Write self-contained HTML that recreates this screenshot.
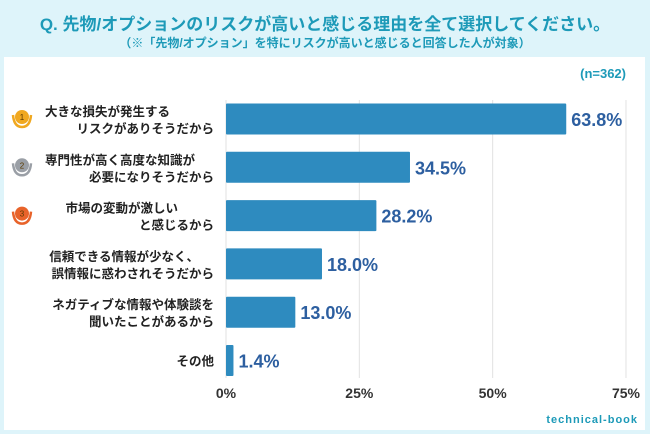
<!DOCTYPE html>
<html><head><meta charset="utf-8"><style>
body{margin:0;width:650px;height:434px;background:#def4fa;font-family:"Liberation Sans","Noto Sans CJK JP",sans-serif;overflow:hidden;position:relative}
.t{position:absolute;left:0;width:650px;text-align:center;color:#1d9ab8;font-weight:bold}
#panel{position:absolute;left:4px;top:57px;width:641px;height:373px;background:#fff}
</style></head><body>
<div class="t" style="top:10px;font-size:17px">Q. 先物/オプションのリスクが高いと感じる理由を全て選択してください。</div>
<div class="t" style="top:34px;font-size:12px">（※「先物/オプション」を特にリスクが高いと感じると回答した人が対象）</div>
<div id="panel"></div>
<svg id="c" width="650" height="434" style="position:absolute;left:0;top:0"></svg>
<script>
const categories=[["大きな損失が発生する","リスクがありそうだから"],["専門性が高く高度な知識が","必要になりそうだから"],["市場の変動が激しい","と感じるから"],["信頼できる情報が少なく、","誤情報に惑わされそうだから"],["ネガティブな情報や体験談を","聞いたことがあるから"],["その他"]];
const values=[63.8,34.5,28.2,18.0,13.0,1.4];
const ticks=[0,25,50,75];
const ranks=[1,2,3];
const NS="http://www.w3.org/2000/svg";
const svg=document.getElementById('c');
const x=v=>226+v*5.333;
const rowY=i=>119+i*48.3;
const firstLineShift=[44,19,36,15,0,0];
function mk(t,a,txt){const e=document.createElementNS(NS,t);for(const k in a)e.setAttribute(k,a[k]);if(txt!==undefined)e.textContent=txt;svg.appendChild(e);return e;}
ticks.forEach(t=>{
const g=mk('line',{x1:x(t),x2:x(t),y1:100,y2:378,stroke:'#e2e2e2','stroke-width':1});


const l=mk('text',{x:x(t),y:398,'text-anchor':'middle','font-size':14,'font-weight':'bold',fill:'#333'},t+'%');


});
const n=mk('text',{x:626,y:78,'text-anchor':'end','font-size':13,'font-weight':'bold',fill:'#1d9ab8'},'(n=362)');


const medal=['#f0a820','#9a9fa6','#e8632a'];
values.forEach((v,i)=>{
const cy=rowY(i);
const b=mk('rect',{x:x(0),y:cy-15.5,width:x(v)-x(0),height:31,fill:'#2e8bbf',rx:1});


const vt=mk('text',{x:x(v)+5,y:cy+7,'font-size':18,fill:'#2d5fa0','font-weight':'bold'},v.toFixed(1)+'%');


const lines=categories[i];
lines.forEach((s,j)=>{
const yy=lines.length===1?cy+5:cy-3+j*17;
const xx=(lines.length>1&&j===0)?214-firstLineShift[i]:214;
const t=mk('text',{x:xx,y:yy,'text-anchor':'end','font-size':12.5,'font-weight':'bold',fill:'#222'},s);


});
});
ranks.forEach((r,i)=>{
const cy=rowY(i);
mk('path',{d:`M13 ${cy-4} Q14 ${cy+8} 22 ${cy+8} Q30 ${cy+8} 31 ${cy-4}`,stroke:medal[i],'stroke-width':2.5,fill:'none'});
const c=mk('circle',{cx:22,cy:cy-2,r:7,fill:medal[i]});


mk('text',{x:22,y:cy+1,'text-anchor':'middle','font-size':8,fill:'#5a3a00'},r);
});
const logo=mk('text',{x:638,y:423,'text-anchor':'end','font-size':11,'font-weight':'bold',fill:'#1d9ab8','letter-spacing':1},'technical-book');


</script>
</body></html>
